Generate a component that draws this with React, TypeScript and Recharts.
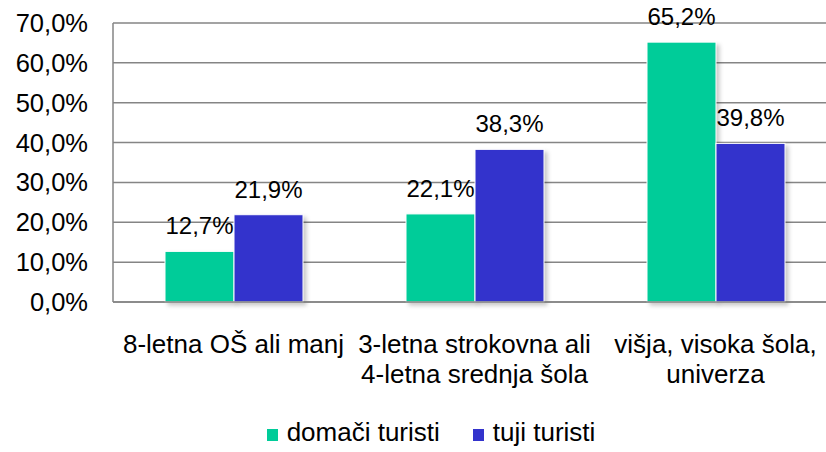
import React from "react";
import { BarChart, Bar, XAxis, YAxis, CartesianGrid, Legend, LabelList } from "recharts";

const categories = [
  "8-letna OŠ ali manj",
  "3-letna strokovna ali\n4-letna srednja šola",
  "višja, visoka šola,\nuniverza",
];
const domaciTuristi = [12.7, 22.1, 65.2];
const tujiTuristi = [21.9, 38.3, 39.8];
const yTicks = [0, 10, 20, 30, 40, 50, 60, 70];

const seriesNames = { domaci: "domači turisti", tuji: "tuji turisti" };
const COLORS = { domaci: "#00CC99", tuji: "#3333CC" };
const FONT = "'Liberation Sans', Arial, sans-serif";

const data = categories.map((c, i) => ({
  category: c,
  domaci: domaciTuristi[i],
  tuji: tujiTuristi[i],
}));

const fmt = (v: number) => v.toFixed(1).replace(".", ",") + "%";

const XTick = (props: any) => {
  const { x, y, payload } = props;
  const lines = String(payload.value).split("\n");
  return (
    <g>
      {lines.map((ln: string, i: number) => (
        <text
          key={i}
          x={x}
          y={y + 51 + i * 29.5}
          textAnchor="middle"
          fontSize={26}
          fontFamily={FONT}
          fill="#000"
        >
          {ln}
        </text>
      ))}
    </g>
  );
};

const BarShape = (props: any) => {
  const { x, y, width, height, fill } = props;
  if (!height || height <= 0) return null;
  return (
    <g style={{ filter: "drop-shadow(3px 3px 2px rgba(0,0,0,0.22))" }}>
      <rect x={x} y={y} width={width} height={height} fill={fill} stroke="#ffffff" strokeWidth={1} />
    </g>
  );
};

const LegendContent = (props: any) => {
  const { payload } = props;
  return (
    <div
      style={{
        display: "flex",
        justifyContent: "center",
        alignItems: "center",
        fontFamily: FONT,
        fontSize: 26,
        color: "#000",
        height: 40,
      }}
    >
      {(payload || []).map((p: any, i: number) => (
        <div key={i} style={{ display: "flex", alignItems: "center", marginLeft: i === 0 ? 0 : 33 }}>
          <span
            style={{
              display: "inline-block",
              width: 11,
              height: 12,
              background: p.color,
              marginRight: 9,
              marginTop: 6,
            }}
          />
          <span>{p.value}</span>
        </div>
      ))}
    </div>
  );
};

export default function App() {
  return (
    <div style={{ position: "fixed", left: 0, top: 0, width: 826, height: 452, overflow: "hidden", background: "#fff" }}>
      <BarChart
        width={840}
        height={452}
        data={data}
        margin={{ top: 23, right: 4, bottom: 0, left: 0 }}
        barSize={69}
        barGap={0}
      >
        <CartesianGrid vertical={false} stroke="#858585" strokeWidth={1.5} />
        <XAxis
          dataKey="category"
          height={110}
          tickLine={false}
          tickSize={0}
          tickMargin={0}
          axisLine={{ stroke: "#858585", strokeWidth: 1.5 }}
          tick={<XTick />}
          interval={0}
        />
        <YAxis
          width={113}
          domain={[0, 70]}
          ticks={yTicks}
          tickFormatter={fmt}
          tickLine={false}
          tickSize={0}
          tickMargin={25}
          axisLine={{ stroke: "#858585", strokeWidth: 1.5 }}
          tick={{ fontSize: 25.5, fontFamily: FONT, fill: "#000" }}
        />
        <Legend
          verticalAlign="bottom"
          height={40}
          content={<LegendContent />}
          wrapperStyle={{ left: 0, width: 862 }}
        />
        <Bar
          dataKey="domaci"
          name={seriesNames.domaci}
          fill={COLORS.domaci}
          isAnimationActive={false}
          shape={<BarShape />}
        >
          <LabelList
            dataKey="domaci"
            position="top"
            offset={17}
            formatter={(v: any) => fmt(Number(v))}
            style={{ fontSize: 24, fontFamily: FONT, fill: "#000" }}
          />
        </Bar>
        <Bar
          dataKey="tuji"
          name={seriesNames.tuji}
          fill={COLORS.tuji}
          isAnimationActive={false}
          shape={<BarShape />}
        >
          <LabelList
            dataKey="tuji"
            position="top"
            offset={17}
            formatter={(v: any) => fmt(Number(v))}
            style={{ fontSize: 24, fontFamily: FONT, fill: "#000" }}
          />
        </Bar>
      </BarChart>
    </div>
  );
}
